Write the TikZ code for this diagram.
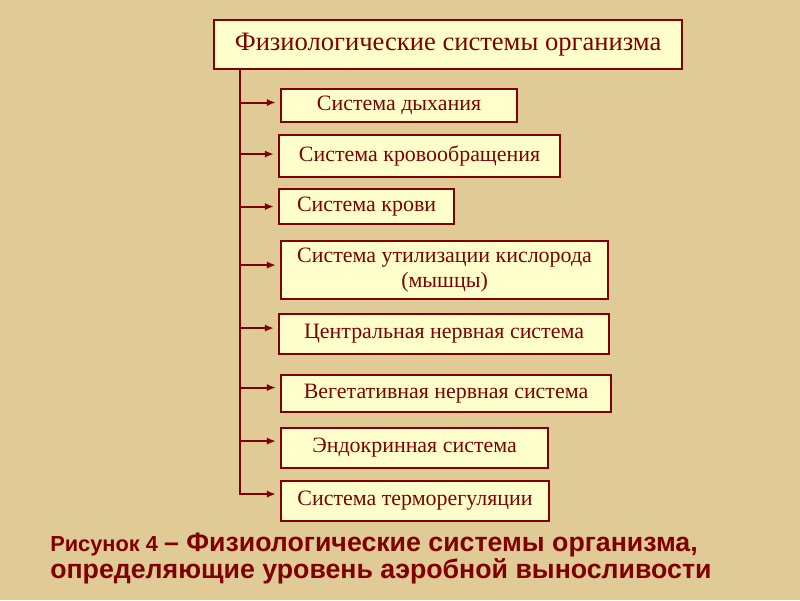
\documentclass[tikz,border=0pt]{standalone}
\usepackage{fontspec}
\setmainfont{Liberation Serif}
\newfontfamily\capfont{Liberation Sans}
\usetikzlibrary{arrows.meta}
\definecolor{parch}{RGB}{224,202,150}
\definecolor{cream}{RGB}{255,255,204}
\definecolor{wine}{RGB}{128,0,0}
\tikzset{
  sysbox/.style={draw=wine, line width=1.5pt, fill=cream, text=wine, anchor=north west,
    inner sep=0pt, font=\fontsize{15.6}{17.8}\selectfont, align=center},
  link/.style={wine, line width=1.4pt, -{Latex[length=2.2mm,width=1.8mm]}, shorten >=3pt}
}
\begin{document}
\begin{tikzpicture}[x=0.025cm, y=-0.025cm]
  \fill[parch] (0,0) rectangle (800,600);
  \useasboundingbox (0,0) rectangle (800,600);
  % main box
  \node[sysbox, minimum width=468*0.025cm, minimum height=49*0.025cm, font=\fontsize{18.9}{21}\selectfont]
    (main) at (213,19) {Физиологические системы организма};
  % subsystems
  \node[sysbox, minimum width=236*0.025cm, minimum height=33*0.025cm] (breath) at (280,88) {Система дыхания};
  \node[sysbox, minimum width=281*0.025cm, minimum height=42*0.025cm] (circ) at (278,134) {Система кровообращения};
  \node[sysbox, minimum width=175*0.025cm, minimum height=35*0.025cm] (blood) at (278,188) {Система крови};
  \node[sysbox, minimum width=327*0.025cm, minimum height=58*0.025cm] (oxy) at (280,240) {Система утилизации кислорода\\(мышцы)};
  \node[sysbox, minimum width=330*0.025cm, minimum height=40*0.025cm] (cns) at (278,313) {Центральная нервная система};
  \node[sysbox, minimum width=330*0.025cm, minimum height=37*0.025cm] (ans) at (280,374) {Вегетативная нервная система};
  \node[sysbox, minimum width=267*0.025cm, minimum height=40*0.025cm] (endo) at (280,427) {Эндокринная система};
  \node[sysbox, minimum width=268*0.025cm, minimum height=40*0.025cm] (thermo) at (280,480) {Система терморегуляции};
  % trunk and arrows
  \coordinate (top) at (240,68);
  \foreach \n/\d in {breath/3,circ/2,blood/0,oxy/5,cns/6,ans/6,endo/7,thermo/7}
    \draw[link] (top) |- ([yshift=\d*0.025cm]\n.west);
  % caption
  \node[anchor=base west, text=wine, align=left, inner sep=0pt, font=\capfont\bfseries]
    (cap) at (50,578) {{\fontsize{15.5}{18}\selectfont Рисунок 4 }{\fontsize{19}{18.6}\selectfont – Физиологические системы организма,}\\
    {\fontsize{19}{18.6}\selectfont определяющие уровень аэробной выносливости}};
\end{tikzpicture}
\end{document}
